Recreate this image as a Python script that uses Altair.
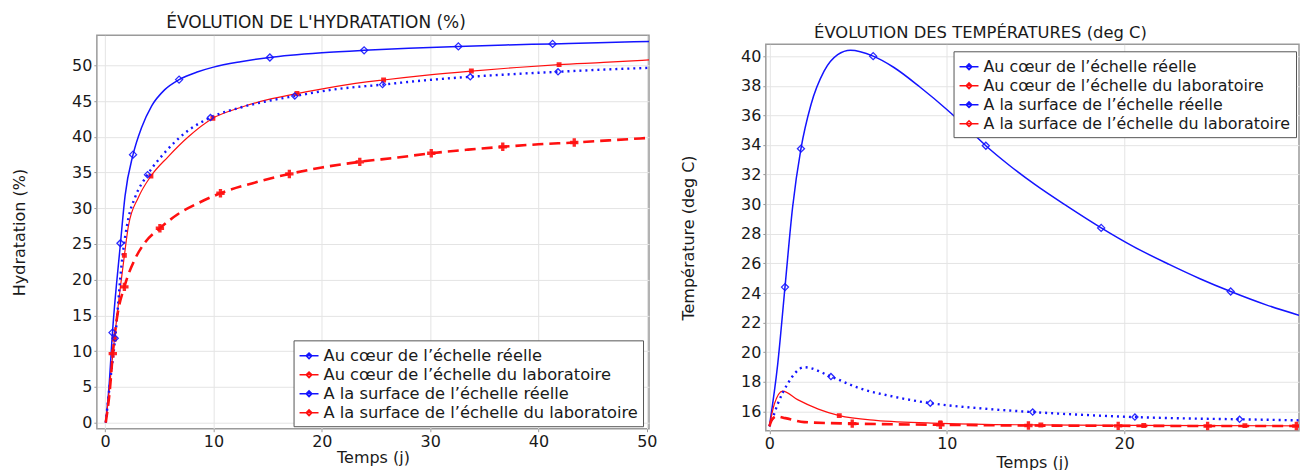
import altair as alt
import pandas as pd

FONT = "DejaVu Sans"
BLUE = "#1414ff"
RED = "#ff1010"
TXT = "#1a1a1a"

SERIES = [
    "Au cœur de l’échelle réelle",
    "Au cœur de l’échelle du laboratoire",
    "A la surface de l’échelle réelle",
    "A la surface de l’échelle du laboratoire",
]

# ---------------- Hydratation (%) ----------------
HC_REEL_X = [0.05, 0.35, 0.67, 1.41, 1.83, 2.57, 3.36, 4.28, 5.5, 6.82, 8.56, 10.0, 12.5, 15.2, 17.1, 20.0, 23.9, 28.0, 32.6, 37.0, 41.3, 45.5, 50.2]
HC_REEL_Y = [0.0, 5.0, 12.6, 25.1, 31.7, 37.5, 41.3, 44.3, 46.6, 48.0, 49.1, 49.75, 50.5, 51.1, 51.4, 51.75, 52.1, 52.4, 52.65, 52.85, 53.0, 53.17, 53.33]
HC_LABO_X = [0.05, 0.4, 0.85, 1.77, 2.14, 3.06, 4.22, 5.8, 7.6, 9.94, 12.5, 15.0, 17.7, 21.5, 25.7, 29.5, 33.8, 38.0, 41.9, 46.0, 50.2]
HC_LABO_Y = [0.0, 5.0, 11.7, 23.4, 27.5, 31.5, 34.5, 37.2, 39.9, 42.6, 44.1, 45.2, 46.05, 47.1, 47.95, 48.6, 49.2, 49.7, 50.1, 50.4, 50.75]
HS_REEL_X = [0.05, 0.4, 0.92, 1.53, 2.14, 2.75, 3.91, 5.5, 7.34, 9.72, 12.5, 15.0, 17.5, 21.0, 25.6, 29.5, 33.7, 38.0, 41.8, 46.0, 50.2]
HS_REEL_Y = [0.0, 5.0, 11.8, 22.4, 28.6, 31.5, 34.7, 37.8, 40.5, 42.7, 44.1, 45.0, 45.7, 46.6, 47.3, 47.9, 48.4, 48.8, 49.1, 49.4, 49.65]
HS_LABO_X = [0.05, 0.46, 0.7, 1.07, 1.77, 2.75, 3.67, 5.05, 6.73, 8.56, 10.64, 14.07, 17.0, 20.0, 23.5, 27.0, 30.1, 33.5, 36.7, 40.0, 43.3, 46.5, 50.2]
HS_LABO_Y = [0.0, 5.1, 9.66, 14.5, 19.0, 22.9, 25.2, 27.2, 29.2, 30.7, 32.1, 33.7, 34.8, 35.7, 36.5, 37.1, 37.7, 38.2, 38.6, 38.95, 39.2, 39.5, 39.85]

HM_C_REEL_X = [0.67, 1.41, 2.57, 6.82, 15.2, 23.9, 32.6, 41.3]
HM_C_REEL_Y = [12.6, 25.1, 37.5, 48.0, 51.1, 52.1, 52.65, 53.0]
HM_C_LABO_X = [0.85, 1.77, 4.22, 9.94, 17.7, 25.7, 33.8, 41.9]
HM_C_LABO_Y = [11.7, 23.4, 34.5, 42.6, 46.05, 47.95, 49.2, 50.1]
HM_S_REEL_X = [0.92, 3.91, 9.72, 17.5, 25.6, 33.7, 41.8]
HM_S_REEL_Y = [11.8, 34.7, 42.7, 45.7, 47.3, 48.4, 49.1]
HM_S_LABO_X = [0.7, 1.77, 5.05, 10.64, 17.0, 23.5, 30.1, 36.7, 43.3]
HM_S_LABO_Y = [9.66, 19.0, 27.2, 32.1, 34.8, 36.5, 37.7, 38.6, 39.2]

# ---------------- Températures (deg C) ----------------
TC_REEL_X = [0.0, 0.47, 0.88, 1.31, 1.78, 2.34, 3.09, 3.85, 4.57, 5.85, 7.0, 8.5, 10.0, 11.1, 12.2, 13.5, 15.0, 16.8, 18.7, 20.5, 22.5, 24.3, 26.0, 28.0, 29.85]
TC_REEL_Y = [15.0, 19.2, 24.4, 29.8, 33.75, 36.7, 39.0, 40.1, 40.4, 40.0, 39.25, 37.9, 36.4, 35.2, 33.95, 32.65, 31.3, 29.85, 28.4, 27.15, 25.95, 24.95, 24.1, 23.2, 22.5]
TC_LABO_X = [0.0, 0.28, 0.75, 1.59, 2.76, 3.94, 6.0, 9.7, 15.0, 20.0, 25.0, 29.85]
TC_LABO_Y = [15.0, 16.5, 17.38, 16.8, 16.16, 15.72, 15.4, 15.2, 15.09, 15.06, 15.04, 15.03]
TS_REEL_X = [0.0, 0.2, 0.47, 1.03, 1.97, 3.47, 5.0, 7.0, 9.07, 12.0, 14.84, 17.5, 20.6, 23.5, 26.5, 29.85]
TS_REEL_Y = [15.0, 15.6, 16.5, 17.87, 18.99, 18.36, 17.6, 17.0, 16.56, 16.2, 15.96, 15.78, 15.62, 15.53, 15.47, 15.4]
TS_LABO_X = [0.0, 0.15, 0.4, 0.9, 1.97, 4.65, 9.7, 14.6, 19.7, 24.7, 29.85]
TS_LABO_Y = [15.0, 15.45, 15.67, 15.55, 15.28, 15.18, 15.1, 15.05, 15.03, 15.02, 15.02]

TM_C_REEL_X = [0.88, 1.78, 5.85, 12.2, 18.7, 26.0]
TM_C_REEL_Y = [24.4, 33.75, 40.0, 33.95, 28.4, 24.1]
TM_C_LABO_X = [3.94, 9.64, 15.3, 21.1, 26.8]
TM_C_LABO_Y = [15.72, 15.2, 15.09, 15.05, 15.04]
TM_S_REEL_X = [3.47, 9.07, 14.84, 20.6, 26.5]
TM_S_REEL_Y = [18.36, 16.56, 15.96, 15.62, 15.47]
TM_S_LABO_X = [4.67, 9.64, 14.6, 19.66, 24.7, 29.7]
TM_S_LABO_Y = [15.18, 15.1, 15.05, 15.03, 15.02, 15.02]

STYLES = [
    dict(color=BLUE, dash=None, width=1.5, shape="diamond", filled=False, size=50),
    dict(color=RED, dash=None, width=1.2, shape="square", filled=True, size=24),
    dict(color=BLUE, dash=[2, 4], width=2.4, shape="diamond", filled=False, size=38),
    dict(color=RED, dash=[11, 6], width=2.6, shape="cross", filled=True, size=70),
]

LEGEND_SYMBOL = "M-1,0H1M-0.3,0L0,-0.3L0.3,0L0,0.3Z"


def spacer(h):
    return (
        alt.Chart(pd.DataFrame({"v": [0]}))
        .mark_point(opacity=0, size=1, strokeWidth=0)
        .encode(x=alt.value(0), y=alt.value(0))
        .properties(width=1, height=h, view=alt.ViewBackground(stroke=None))
    )


def panel(curves, markers, xdom, ydom, xticks, yticks, ytitle, title,
          lx, ly, w, h, xtitle_pad, label_size, top_space):
    color_scale = alt.Scale(domain=SERIES, range=[s["color"] for s in STYLES])
    xenc = alt.X("x:Q", scale=alt.Scale(domain=xdom, nice=False, zero=False),
                 axis=alt.Axis(values=xticks, title="Temps (j)", titlePadding=xtitle_pad))
    yenc = alt.Y("y:Q", scale=alt.Scale(domain=ydom, nice=False, zero=False),
                 axis=alt.Axis(values=yticks, title=ytitle, titlePadding=44))
    layers = []
    for i, (name, (cx, cy)) in enumerate(zip(SERIES, curves)):
        st = STYLES[i]
        df = pd.DataFrame({"x": cx, "y": cy, "serie": name})
        kw = dict(interpolate="monotone", strokeWidth=st["width"], clip=True)
        if st["dash"]:
            kw["strokeDash"] = st["dash"]
        if i == 0:
            leg = alt.Legend(orient="none", legendX=lx, legendY=ly, title=None,
                             fillColor="white", strokeColor="#555555", padding=5,
                             labelFont=FONT, labelFontSize=label_size, labelColor=TXT,
                             symbolType=LEGEND_SYMBOL, symbolSize=361,
                             symbolStrokeWidth=1.5, rowPadding=0, labelOffset=4,
                             labelLimit=500)
        else:
            leg = None
        layers.append(
            alt.Chart(df).mark_line(**kw).encode(
                x=xenc, y=yenc,
                color=alt.Color("serie:N", scale=color_scale, legend=leg))
        )
    for i, (mx, my) in enumerate(markers):
        st = STYLES[i]
        dfm = pd.DataFrame({"x": mx, "y": my})
        layers.append(
            alt.Chart(dfm).mark_point(shape=st["shape"], filled=st["filled"],
                                      color=st["color"], size=st["size"],
                                      strokeWidth=1.3, opacity=0.9, clip=True)
            .encode(x=xenc, y=yenc)
        )
    main = alt.layer(*layers).properties(width=w, height=h, title=title)
    return (
        alt.vconcat(spacer(top_space), main, spacing=0)
        .resolve_scale(color="independent")
        .resolve_legend(color="independent")
    )


left = panel(
    [(HC_REEL_X, HC_REEL_Y), (HC_LABO_X, HC_LABO_Y), (HS_REEL_X, HS_REEL_Y), (HS_LABO_X, HS_LABO_Y)],
    [(HM_C_REEL_X, HM_C_REEL_Y), (HM_C_LABO_X, HM_C_LABO_Y), (HM_S_REEL_X, HM_S_REEL_Y), (HM_S_LABO_X, HM_S_LABO_Y)],
    [-0.77, 50.2], [-0.85, 54.2], [0, 10, 20, 30, 40, 50], list(range(0, 55, 5)),
    "Hydratation (%)",
    alt.Title("ÉVOLUTION DE L'HYDRATATION (%)", dx=-57, offset=3.2, fontSize=17.0),
    197, 305.5, 553, 394, 0, 16.3, 3.4,
)

right = panel(
    [(TC_REEL_X, TC_REEL_Y), (TC_LABO_X, TC_LABO_Y), (TS_REEL_X, TS_REEL_Y), (TS_LABO_X, TS_LABO_Y)],
    [(TM_C_REEL_X, TM_C_REEL_Y), (TM_C_LABO_X, TM_C_LABO_Y), (TM_S_REEL_X, TM_S_REEL_Y), (TM_S_LABO_X, TM_S_LABO_Y)],
    [-0.2, 29.85], [14.7, 40.8], [0, 10, 20], list(range(16, 41, 2)),
    "Température (deg C)",
    alt.Title("ÉVOLUTION DES TEMPÉRATURES (deg C)", dx=-52, offset=2.6, fontSize=16.4),
    188, 7, 534, 387, 2.5, 15.9, 14.5,
)

chart = (
    alt.hconcat(left, right, spacing=21)
    .resolve_scale(color="independent")
    .resolve_legend(color="independent")
    .properties(padding={"left": 2, "top": 0, "right": 0, "bottom": 0})
    .configure_view(stroke="#9a9a9a", strokeWidth=1.5)
    .configure_axis(labelFont=FONT, titleFont=FONT, labelFontSize=16, titleFontSize=16,
                    titleFontWeight="normal", labelColor=TXT, titleColor=TXT,
                    gridColor="#e4e4e4", gridWidth=1, domain=False, ticks=True,
                    tickSize=3, tickColor="#9a9a9a", labelPadding=2)
    .configure_title(font=FONT, fontSize=16, fontWeight="normal", color=TXT, anchor="middle")
)

chart.save("out.html", embed_options={"renderer": "svg", "actions": False})
